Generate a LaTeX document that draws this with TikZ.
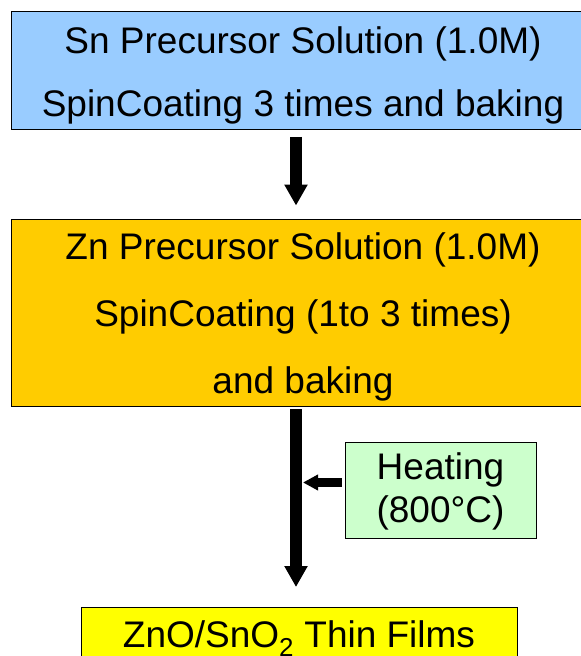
\documentclass[tikz,border=0pt]{standalone}
\usepackage{fontspec}
\setmainfont{Liberation Sans}
\usepackage{tikz}
\usetikzlibrary{arrows.meta,positioning}
\definecolor{snblue}{HTML}{99CCFF}
\definecolor{zngold}{HTML}{FFCC00}
\definecolor{heatgreen}{HTML}{CCFFCC}
\definecolor{filmyellow}{HTML}{FFFF00}

\begin{document}
\begin{tikzpicture}[x=1pt,y=-1pt,
  box/.style={draw=black,line width=0.9pt,align=center,inner sep=0pt,
    font=\fontsize{37}{63}\selectfont},
  flow/.style={-{Triangle[length=21pt,width=22pt]},line width=12pt,draw=black},
  feed/.style={-{Triangle[length=15pt,width=15pt]},line width=9pt,draw=black}]
\useasboundingbox (0,0) rectangle (581,656);
\node[box,fill=snblue,minimum width=584pt,minimum height=118pt] (sn) at (303,70.5)
  {\rule{0pt}{36pt}Sn Precursor Solution (1.0M)\\SpinCoating 3 times and baking};
\node[box,fill=zngold,minimum width=584pt,minimum height=187pt,
  font=\fontsize{37}{67}\selectfont] (zn) at (303,312.5)
  {\rule{0pt}{35pt}Zn Precursor Solution (1.0M)\\SpinCoating (1to 3 times)\\and baking};
\node[box,fill=heatgreen,minimum width=191pt,minimum height=96pt,
  font=\fontsize{37}{43}\selectfont] (heat) at (440.5,490)
  {\rule{0pt}{29.5pt}Heating\\(800°C)};
\node[box,fill=filmyellow,minimum width=436pt,minimum height=62pt,anchor=north] (film) at (299,607)
  {ZnO/SnO\textsubscript{2} Thin Films};
\coordinate (spine) at (296,0);

% main flow down the left column, heating feeds in from the side
\draw[flow,shorten <=7pt,shorten >=13pt] (sn.south -| spine) -- (zn.north -| spine);
\draw[flow,shorten <=3pt,shorten >=20pt] (zn.south -| spine) -- (film.north -| spine);
\draw[feed,shorten <=3pt,shorten >=7pt] ([yshift=7.5pt]heat.west) -- ([yshift=7.5pt]heat.west -| spine);
\end{tikzpicture}
\end{document}
